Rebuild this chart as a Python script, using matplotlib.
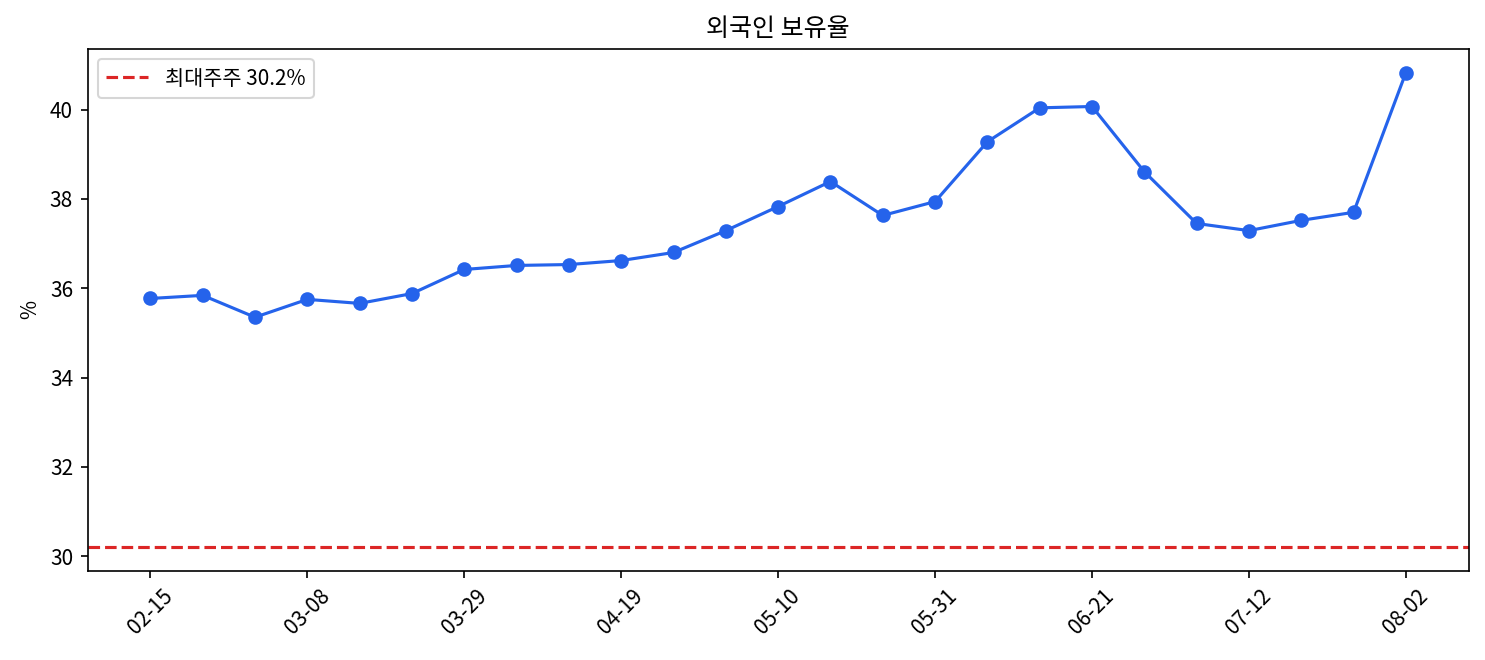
import matplotlib
matplotlib.use("Agg")
from matplotlib import pyplot as plt

plt.rcParams['font.family'] = ['Noto Sans CJK KR', 'DejaVu Sans']
plt.rcParams['axes.unicode_minus'] = False

dates = ["02-15", "02-22", "03-01", "03-08", "03-15", "03-22", "03-29", "04-05",
         "04-12", "04-19", "04-26", "05-03", "05-10", "05-17", "05-24", "05-31",
         "06-07", "06-14", "06-21", "06-28", "07-05", "07-12", "07-19", "07-26",
         "08-02"]
foreign_pct = [35.77, 35.84, 35.35, 35.75, 35.66, 35.88, 36.42, 36.51,
               36.53, 36.62, 36.80, 37.29, 37.83, 38.39, 37.63, 37.94,
               39.28, 40.04, 40.07, 38.61, 37.45, 37.29, 37.52, 37.70,
               40.83]
major_holder = 30.2

fig, ax = plt.subplots(figsize=(9.9, 4.4), dpi=150)
x = list(range(len(dates)))
ax.plot(x, foreign_pct, marker='o', color='#2563eb', linewidth=1.5, markersize=6)
ax.axhline(major_holder, color='#dc2626', linestyle='--', linewidth=1.5,
           label=f"최대주주 {major_holder}%")
ax.set_xticks(x[::3])
ax.set_xticklabels(dates[::3], rotation=45)
ax.set_ylabel("%")
ax.set_title("외국인 보유율")
ax.legend(loc='upper left')

fig.subplots_adjust(left=0.059, right=0.989, top=0.926, bottom=0.135)
fig.savefig("out.png")
